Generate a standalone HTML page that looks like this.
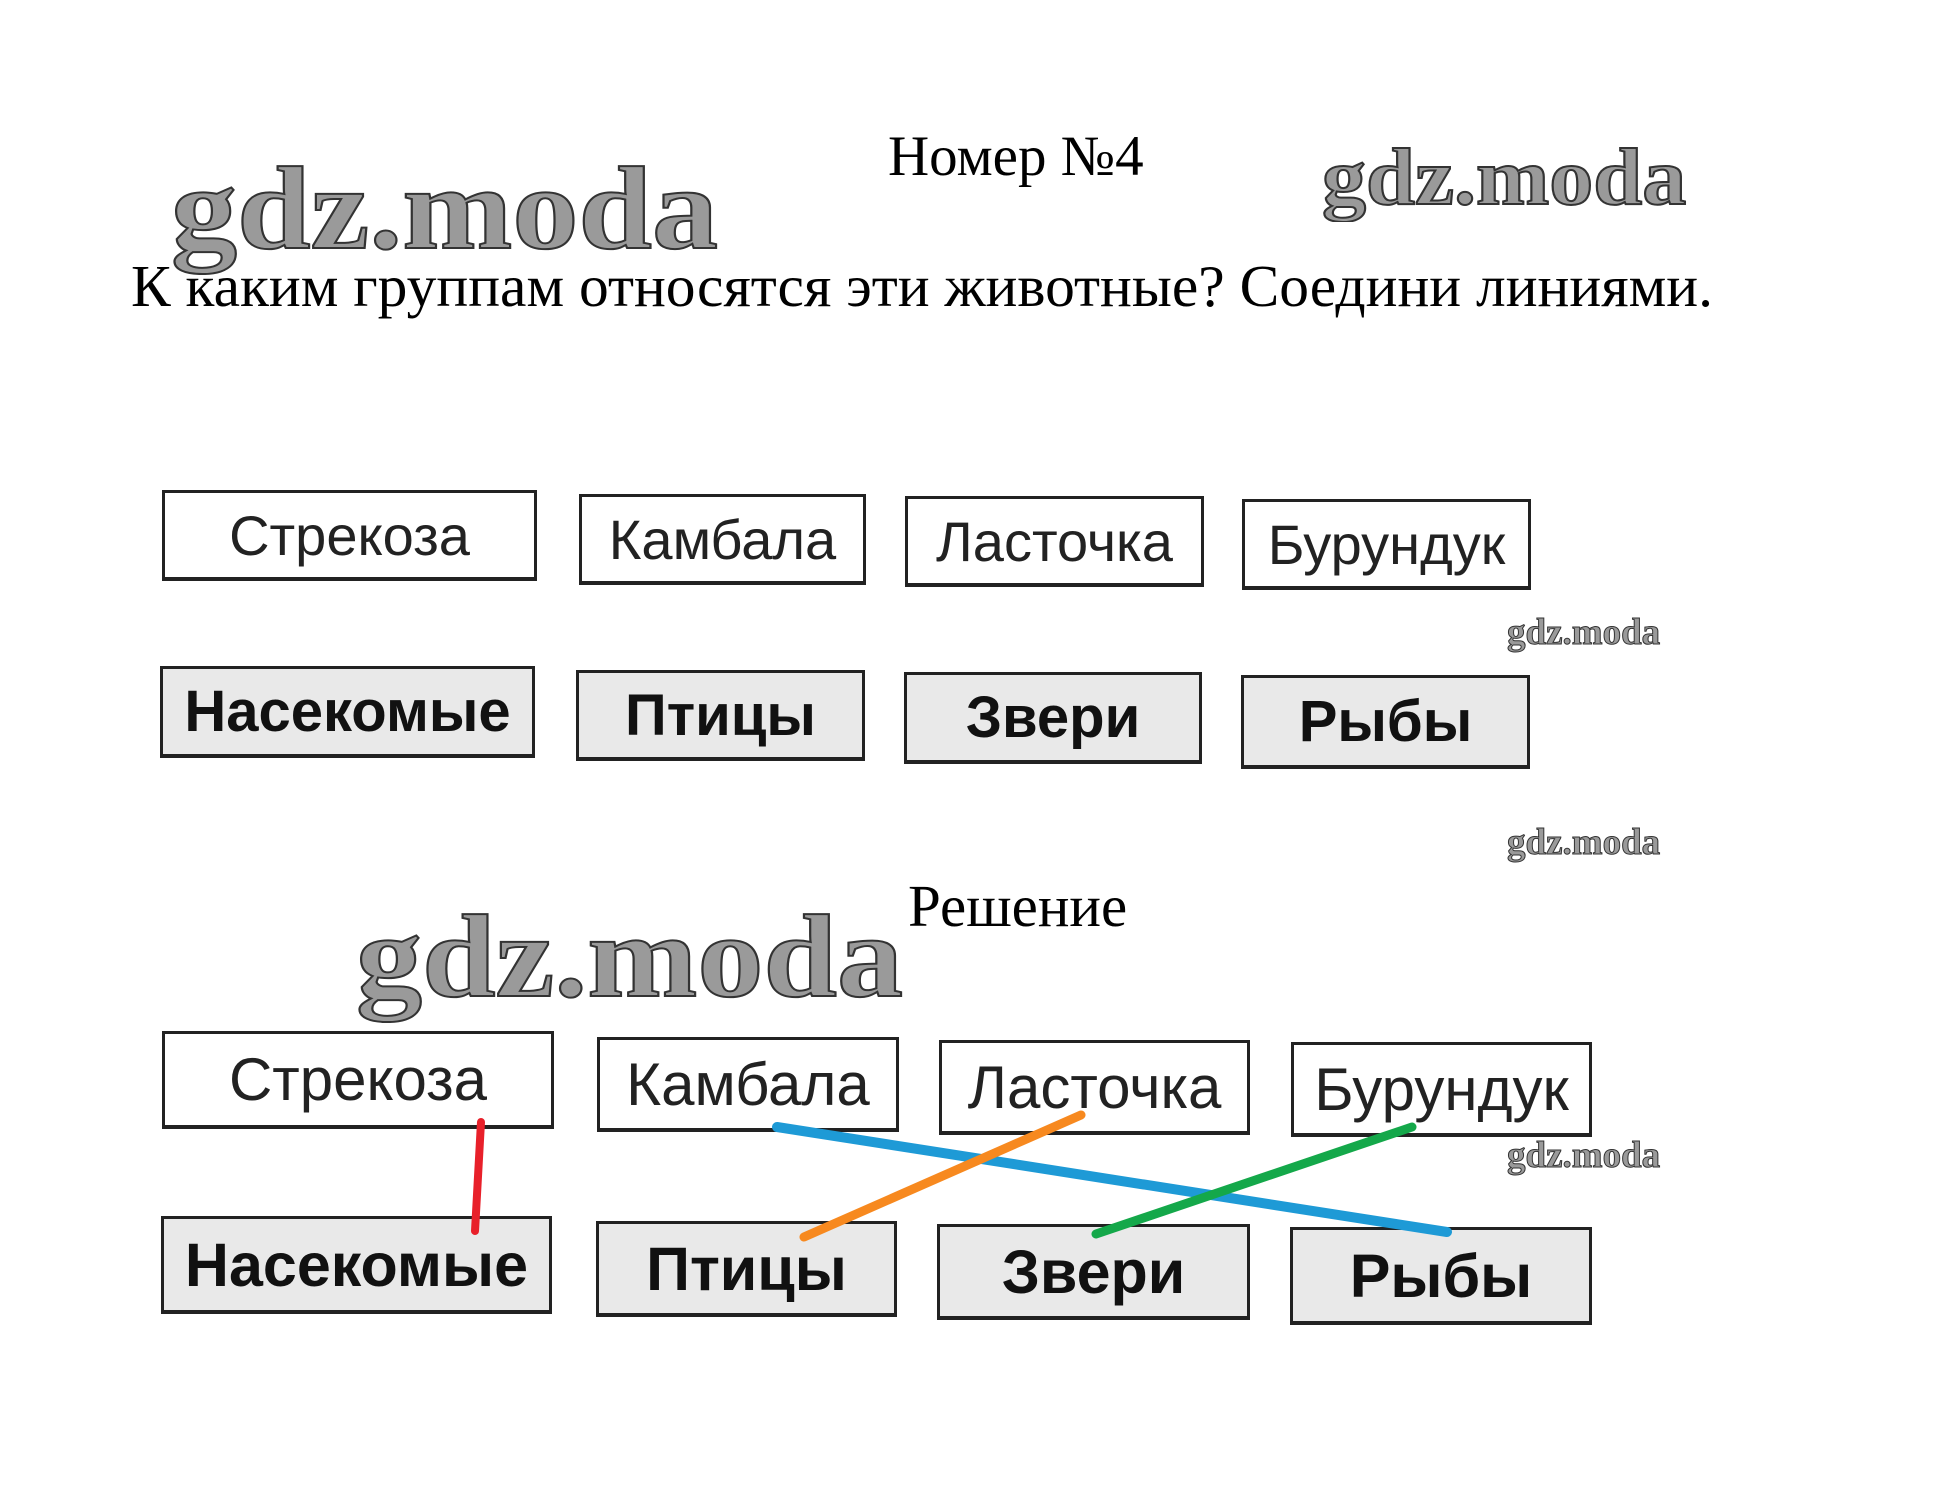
<!DOCTYPE html>
<html><head><meta charset="utf-8">
<style>
body{margin:0;width:1950px;height:1498px;background:#fff;position:relative;overflow:hidden}
.a{position:absolute;white-space:nowrap}
.serif{font-family:"Liberation Serif",serif;color:#000}
.wm{font-family:"Liberation Serif",serif;font-weight:bold;color:#9a9a9a;-webkit-text-stroke:2px #333;transform-origin:0 0;line-height:1}
.box{position:absolute;box-sizing:border-box;border:3px solid #222;border-bottom-width:4px;background:#fff;display:flex;align-items:center;justify-content:center;font-family:"Liberation Sans",sans-serif;font-size:56px;color:#222}
.g{background:#e9e9e9;font-weight:bold;color:#111;font-size:58px;border-width:3px 3px 4px 3px}
</style></head><body>
<div class="a serif" style="left:888px;top:124px;font-size:57px">Номер №4</div>
<div class="a wm" style="left:171px;top:150px;font-size:118px;transform:scaleX(1.12)">gdz.moda</div>
<div class="a wm" style="left:1322px;top:138px;font-size:80px;transform:scaleX(1.10)">gdz.moda</div>
<div class="a serif" style="left:131px;top:252px;font-size:59.5px">К каким группам относятся эти животные? Соедини линиями.</div>

<div class="box" style="left:162px;top:490px;width:375px;height:91px">Стрекоза</div>
<div class="box" style="left:579px;top:494px;width:287px;height:91px">Камбала</div>
<div class="box" style="left:905px;top:496px;width:299px;height:91px">Ласточка</div>
<div class="box" style="left:1242px;top:499px;width:289px;height:91px">Бурундук</div>

<div class="box g" style="left:160px;top:666px;width:375px;height:92px">Насекомые</div>
<div class="box g" style="left:576px;top:670px;width:289px;height:91px">Птицы</div>
<div class="box g" style="left:904px;top:672px;width:298px;height:92px">Звери</div>
<div class="box g" style="left:1241px;top:675px;width:289px;height:94px">Рыбы</div>

<div class="a wm" style="left:1507px;top:614px;font-size:37px;-webkit-text-stroke:1px #333">gdz.moda</div>
<div class="a wm" style="left:1507px;top:824px;font-size:37px;-webkit-text-stroke:1px #333">gdz.moda</div>
<div class="a wm" style="left:1507px;top:1137px;font-size:37px;-webkit-text-stroke:1px #333">gdz.moda</div>

<div class="a serif" style="left:908px;top:872px;font-size:59px">Решение</div>
<div class="a wm" style="left:356px;top:898px;font-size:118px;transform:scaleX(1.12)">gdz.moda</div>

<div class="box" style="left:162px;top:1031px;width:392px;height:98px;font-size:60px">Стрекоза</div>
<div class="box" style="left:597px;top:1037px;width:302px;height:95px;font-size:60px">Камбала</div>
<div class="box" style="left:939px;top:1040px;width:311px;height:95px;font-size:60px">Ласточка</div>
<div class="box" style="left:1291px;top:1042px;width:301px;height:95px;font-size:60px">Бурундук</div>

<div class="box g" style="left:161px;top:1216px;width:391px;height:98px;font-size:61px">Насекомые</div>
<div class="box g" style="left:596px;top:1221px;width:301px;height:96px;font-size:61px">Птицы</div>
<div class="box g" style="left:937px;top:1224px;width:313px;height:96px;font-size:61px">Звери</div>
<div class="box g" style="left:1290px;top:1227px;width:302px;height:98px;font-size:61px">Рыбы</div>

<svg class="a" style="left:0;top:0" width="1950" height="1498">
<g stroke-linecap="round" fill="none">
<line x1="481" y1="1122" x2="475" y2="1231" stroke="#e8202a" stroke-width="8"/>
<line x1="777" y1="1127" x2="1447" y2="1232" stroke="#1e9ad6" stroke-width="10"/>
<line x1="1081" y1="1115" x2="804" y2="1237" stroke="#f7891f" stroke-width="9"/>
<line x1="1412" y1="1127" x2="1096" y2="1234" stroke="#14a84a" stroke-width="9"/>
</g></svg>
</body></html>
